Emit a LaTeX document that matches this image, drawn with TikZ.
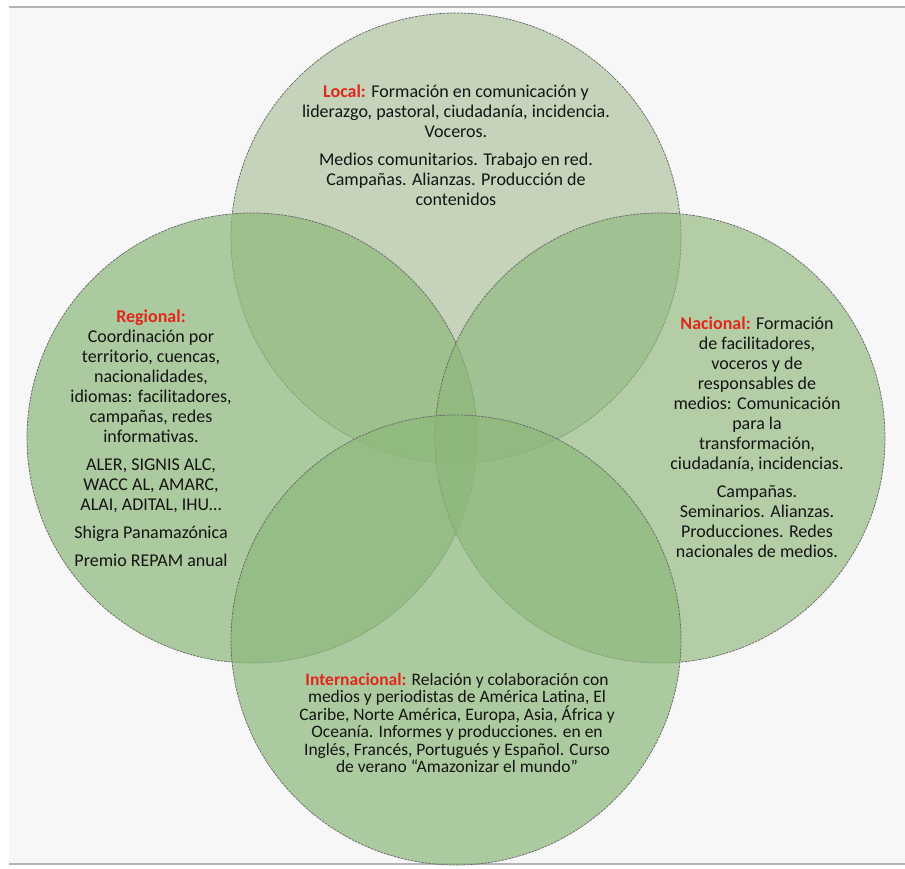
\documentclass[tikz,border=0pt]{standalone}
\usepackage{fontspec}
\setmainfont{Carlito}
\definecolor{bgc}{HTML}{F7F7F7}
\definecolor{frame}{HTML}{B4B4B4}
\definecolor{gbase}{HTML}{8DB87A}
\definecolor{gtop}{HTML}{9DB88C}
\definecolor{outl}{HTML}{6A6A6A}
\definecolor{hred}{HTML}{E2271B}
\definecolor{ink}{HTML}{141414}
\begin{document}
\begin{tikzpicture}[x=1pt,y=-1pt,
  circ/.style={circle,minimum size=450pt,inner sep=0pt,draw=outl,line width=0.75pt,dash pattern=on 2.5pt off 1pt},
  txt/.style={align=center,inner sep=0pt,text=ink,font=\fontsize{18}{20}\selectfont},
  txtb/.style={align=center,inner sep=0pt,text=ink,font=\fontsize{17.5}{17.5}\selectfont}]
\useasboundingbox (0,0) rectangle (905,868);
\fill[white] (0,0) rectangle (905,868);
\fill[bgc] (9,7) rectangle (905,864);
\draw[frame,line width=1.5pt] (9,7) -- (905,7);
\draw[frame,line width=1.5pt] (9,864) -- (905,864);
% circles
\node[circ,fill=gtop,fill opacity=0.56] (ctop) at (456,238) {};
\node[circ,fill=gbase,fill opacity=0.7] (cleft) at (252,438) {};
\node[circ,fill=gbase,fill opacity=0.64] (cright) at (660,438) {};
\node[circ,fill=gbase,fill opacity=0.7] (cbot) at (456,640) {};
% texts
\node[txt,anchor=north] (tlocal) at (456,85) {%
{\color{hred}\bfseries Local:} Formación en comunicación y\\
liderazgo, pastoral, ciudadanía, incidencia.\\
Voceros.\\[8pt]
Medios comunitarios. Trabajo en red.\\
Campañas. Alianzas. Producción de\\
contenidos};
\node[txt,anchor=north] (treg) at (151,310) {%
{\color{hred}\bfseries Regional:}\\
Coordinación por\\
territorio, cuencas,\\
nacionalidades,\\
idiomas: facilitadores,\\
campañas, redes\\
informativas.\\[8pt]
ALER, SIGNIS ALC,\\
WACC AL, AMARC,\\
ALAI, ADITAL, IHU…\\[8pt]
Shigra Panamazónica\\[8pt]
Premio REPAM anual};
\node[txt,anchor=north] (tnac) at (757,317) {%
{\color{hred}\bfseries Nacional:} Formación\\
de facilitadores,\\
voceros y de\\
responsables de\\
medios: Comunicación\\
para la\\
transformación,\\
ciudadanía, incidencias.\\[8pt]
Campañas.\\
Seminarios. Alianzas.\\
Producciones. Redes\\
nacionales de medios.};
\node[txtb,anchor=north] (tint) at (457,673) {%
{\color{hred}\bfseries Internacional:} Relación y colaboración con\\
medios y periodistas de América Latina, El\\
Caribe, Norte América, Europa, Asia, África y\\
Oceanía. Informes y producciones. en en\\
Inglés, Francés, Portugués y Español. Curso\\
de verano “Amazonizar el mundo”};
\end{tikzpicture}
\end{document}
